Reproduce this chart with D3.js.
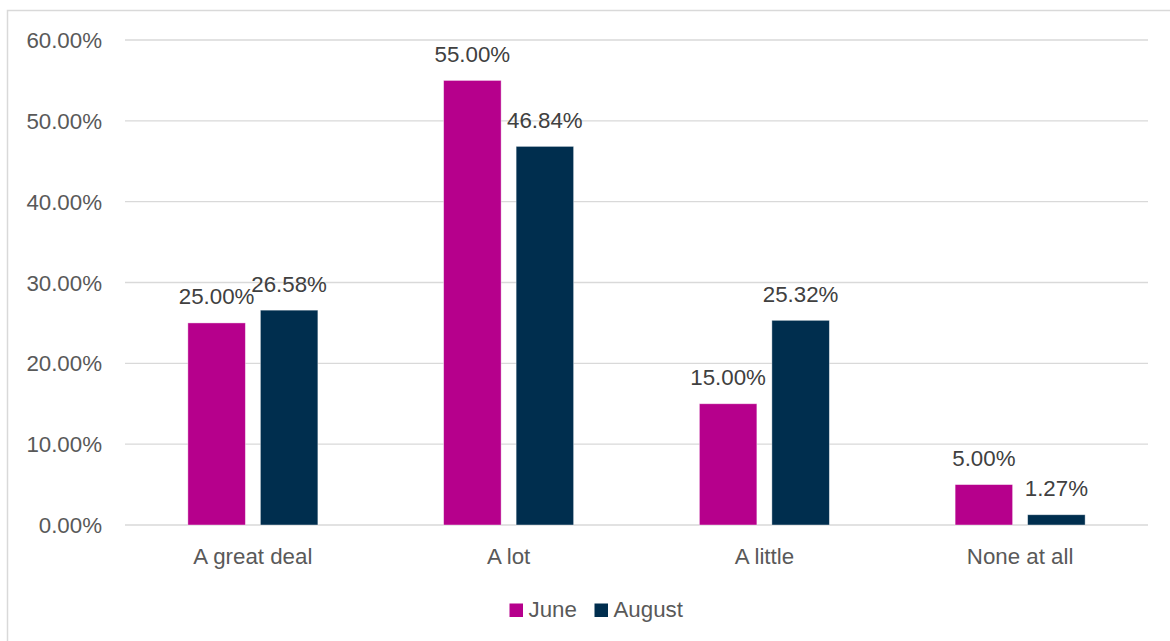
<!DOCTYPE html>
<html>
<head>
<meta charset="utf-8">
<script src="https://cdn.jsdelivr.net/npm/d3@7"></script>
<style>
  html, body { margin: 0; padding: 0; background: #fff; }
  svg { display: block; }
  text { font-family: "Liberation Sans", Arial, sans-serif; }
</style>
</head>
<body>
<svg id="chart" width="1170" height="641"></svg>
<script>
const categories = ["A great deal", "A lot", "A little", "None at all"];
const seriesNames = ["June", "August"];
const juneValues = [25.00, 55.00, 15.00, 5.00];
const augustValues = [26.58, 46.84, 25.32, 1.27];
const yTicks = [0, 10, 20, 30, 40, 50, 60];
const colors = ["#B6008C", "#002E4E"];

const seriesValues = [juneValues, augustValues];
const svg = d3.select("#chart");
const fs = 22.3;

// chart frame
svg.append("path")
  .attr("d", "M7.5,641 L7.5,10.5 L1170,10.5")
  .attr("fill", "none").attr("stroke", "#d9d9d9").attr("stroke-width", 1.5);

const plotLeft = 125, plotRight = 1148, plotTop = 40, plotBottom = 525;

const x0 = d3.scaleBand().domain(categories).range([plotLeft, plotRight]).padding(0);
const groupW = 130;
const x1 = d3.scaleBand().domain(seriesNames).range([0, groupW]).paddingInner(0.207).paddingOuter(0);
const y = d3.scaleLinear().domain([0, 60]).range([plotBottom, plotTop]);

// gridlines
svg.append("g").selectAll("line").data(yTicks).join("line")
  .attr("x1", plotLeft).attr("x2", plotRight)
  .attr("y1", d => y(d)).attr("y2", d => y(d))
  .attr("stroke", "#d9d9d9").attr("stroke-width", 1.3);

// y tick labels
svg.append("g").selectAll("text").data(yTicks).join("text")
  .attr("x", 102).attr("y", d => y(d)).attr("dy", "0.36em")
  .attr("text-anchor", "end").attr("fill", "#595959").attr("font-size", fs)
  .text(d => d.toFixed(2) + "%");

// bars
const rows = [];
categories.forEach((c, i) => {
  seriesNames.forEach((s, j) => rows.push({ c, s, j, v: seriesValues[j][i] }));
});
const groupOffset = (x0.bandwidth() - groupW) / 2;

svg.append("g").selectAll("rect").data(rows).join("rect")
  .attr("x", d => x0(d.c) + groupOffset + x1(d.s))
  .attr("width", x1.bandwidth())
  .attr("y", d => y(d.v))
  .attr("height", d => y(0) - y(d.v))
  .attr("fill", d => colors[d.j])
  .attr("stroke", "#ffffff").attr("stroke-opacity", 0.5).attr("stroke-width", 0.8);

// data labels
svg.append("g").selectAll("text").data(rows).join("text")
  .attr("x", d => x0(d.c) + groupOffset + x1(d.s) + x1.bandwidth() / 2)
  .attr("y", d => y(d.v) - 18.5)
  .attr("text-anchor", "middle").attr("fill", "#404040").attr("font-size", fs)
  .text(d => d.v.toFixed(2) + "%");

// category labels
svg.append("g").selectAll("text").data(categories).join("text")
  .attr("x", d => x0(d) + x0.bandwidth() / 2).attr("y", 564)
  .attr("text-anchor", "middle").attr("fill", "#595959").attr("font-size", fs)
  .text(d => d);

// legend
const legend = [
  { name: "June", color: colors[0], sx: 509.5, tx: 528.5 },
  { name: "August", color: colors[1], sx: 594.5, tx: 613.5 }
];
const lg = svg.append("g");
lg.selectAll("rect").data(legend).join("rect")
  .attr("x", d => d.sx).attr("y", 603.5).attr("width", 13.5).attr("height", 13.5)
  .attr("fill", d => d.color);
lg.selectAll("text").data(legend).join("text")
  .attr("x", d => d.tx).attr("y", 617)
  .attr("fill", "#595959").attr("font-size", fs)
  .text(d => d.name);
</script>
</body>
</html>
